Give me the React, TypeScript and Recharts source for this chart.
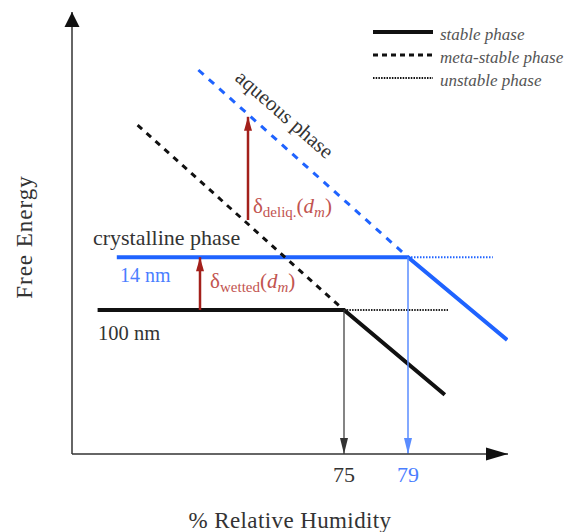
import React from 'react';
import { ComposedChart, Line, XAxis, YAxis, ReferenceDot, Label } from 'recharts';

// x = % relative humidity, y = free energy (arbitrary units)
const stable100 = [{ x: 59.6, y: 36 }, { x: 75, y: 36 }, { x: 81.3, y: 14.8 }];
const meta100 = [{ x: 62.1, y: 82.2 }, { x: 75, y: 36 }];
const unstable100 = [{ x: 75, y: 36 }, { x: 81.5, y: 36 }];
const stable14 = [{ x: 60.8, y: 49.2 }, { x: 79, y: 49.2 }, { x: 85.2, y: 28.5 }];
const meta14 = [{ x: 65.9, y: 96 }, { x: 79, y: 49.2 }];
const unstable14 = [{ x: 79, y: 49.2 }, { x: 84.3, y: 49.2 }];
const drh100 = [{ x: 75, y: 36 }, { x: 75, y: 0 }];
const drh14 = [{ x: 79, y: 49.2 }, { x: 79, y: 0 }];
const wettedArrow = [{ x: 66, y: 36 }, { x: 66, y: 49.2 }];
const deliqArrow = [{ x: 69, y: 58.5 }, { x: 69, y: 84.3 }];
const rhTicks = [75, 79];
const legendLabels = ['stable phase', 'meta-stable phase', 'unstable phase'];

const FONT = "'Liberation Serif', 'Times New Roman', serif";
const BLUE = '#1f63ff';
const BLUE_TEXT = '#4a7eff';
const BLUE_THIN = '#5a8cff';
const RED = '#a3201b';
const RED_TEXT = '#c25450';
const TEXT = '#333';

const X_DOMAIN = [58, 85.25];
const Y_DOMAIN = [0, 110.5];

const head = (dir: string, len: number, half: number, color: string) => (props: any) => {
  const { cx, cy } = props;
  let d = '';
  if (dir === 'up') d = `M${cx},${cy} L${cx - half},${cy + len} L${cx + half},${cy + len} Z`;
  if (dir === 'down') d = `M${cx},${cy} L${cx - half},${cy - len} L${cx + half},${cy - len} Z`;
  if (dir === 'right') d = `M${cx},${cy} L${cx - len},${cy - half} L${cx - len},${cy + half} Z`;
  return <path d={d} fill={color} stroke="none" />;
};

const txt = (content: React.ReactNode, extra: any = {}) => (props: any) => (
  <text x={props.cx} y={props.cy} fontFamily={FONT} fill={TEXT} fontSize={20} {...extra}>
    {content}
  </text>
);

const RhTick = (props: any) => {
  const { x, y, payload } = props;
  return (
    <text x={x} y={y} dy={28} textAnchor="middle" fontFamily={FONT} fontSize={22} fill={payload.value === 79 ? BLUE_TEXT : TEXT}>
      {payload.value}
    </text>
  );
};

const XLabel = (props: any) => {
  const vb = props.viewBox;
  return (
    <text x={vb.x + vb.width / 2} y={vb.y + vb.height - 4} textAnchor="middle" fontFamily={FONT} fontSize={23} letterSpacing={0.4} fill={TEXT}>
      % Relative Humidity
    </text>
  );
};

const YLabel = (props: any) => {
  const vb = props.viewBox;
  const x = vb.x + 32;
  const y = vb.y + vb.height / 2 + 4;
  return (
    <text x={x} y={y} transform={`rotate(-90, ${x}, ${y})`} textAnchor="middle" fontFamily={FONT} fontSize={23} letterSpacing={1} fill={TEXT}>
      Free Energy
    </text>
  );
};

const legendDash = [undefined, '5 4', '1.5 1.2'];
const legendWidth = [4, 3, 2];

const LegendBox = () => (
  <svg width={200} height={72} style={{ position: 'absolute', left: 370, top: 20 }}>
    {legendLabels.map((l, i) => (
      <g key={l}>
        <line x1={3} x2={63} y1={12 + i * 23} y2={12 + i * 23} stroke="#111" strokeWidth={legendWidth[i]} strokeDasharray={legendDash[i]} />
        <text x={70} y={20 + i * 23} fontFamily={FONT} fontStyle="italic" fontSize={17} fill="#555">
          {l}
        </text>
      </g>
    ))}
  </svg>
);

const common = { dataKey: 'y', type: 'linear' as const, dot: false, activeDot: false, isAnimationActive: false, legendType: 'none' as const };

export default function App() {
  return (
    <div style={{ position: 'absolute', left: 0, top: 0, width: 572, height: 532, background: '#fff' }}>
      <ComposedChart width={572} height={532} margin={{ top: 12, right: 64, bottom: 0, left: 0 }}>
        <XAxis
          type="number"
          dataKey="x"
          domain={X_DOMAIN}
          allowDataOverflow
          ticks={rhTicks}
          tick={<RhTick />}
          tickLine={false}
          tickSize={0}
          tickMargin={0}
          height={78}
          axisLine={{ stroke: '#333', strokeWidth: 1.5 }}
        >
          <Label content={<XLabel />} />
        </XAxis>
        <YAxis
          type="number"
          domain={Y_DOMAIN}
          allowDataOverflow
          tick={false}
          tickLine={false}
          width={72}
          axisLine={{ stroke: '#333', strokeWidth: 1.5 }}
        >
          <Label content={<YLabel />} />
        </YAxis>

        <Line {...common} data={stable14} stroke={BLUE} strokeWidth={4} />
        <Line {...common} data={meta14} stroke={BLUE} strokeWidth={3} strokeDasharray="7 7" />
        <Line {...common} data={unstable14} stroke={BLUE} strokeWidth={2} strokeDasharray="1.5 1.5" />
        <Line {...common} data={meta100} stroke="#111" strokeWidth={3} strokeDasharray="6 6" />
        <Line {...common} data={stable100} stroke="#111" strokeWidth={4} />
        <Line {...common} data={unstable100} stroke="#222" strokeWidth={2} strokeDasharray="1.5 1.2" />
        <Line {...common} data={drh100} stroke={TEXT} strokeWidth={1.2} />
        <Line {...common} data={drh14} stroke={BLUE_THIN} strokeWidth={1.5} />
        <Line {...common} data={wettedArrow} stroke={RED} strokeWidth={2.5} />
        <Line {...common} data={deliqArrow} stroke={RED} strokeWidth={2.5} />

        <ReferenceDot x={75} y={0} ifOverflow="visible" shape={head('down', 16, 4, TEXT)} />
        <ReferenceDot x={79} y={0} ifOverflow="visible" shape={head('down', 16, 4, BLUE_THIN)} />
        <ReferenceDot x={66} y={49.2} ifOverflow="visible" shape={head('up', 14, 4, RED)} />
        <ReferenceDot x={69} y={84.3} ifOverflow="visible" shape={head('up', 14, 4, RED)} />
        <ReferenceDot x={X_DOMAIN[1]} y={0} ifOverflow="visible" shape={head('right', 22, 6.5, '#111')} />
        <ReferenceDot x={X_DOMAIN[0]} y={Y_DOMAIN[1]} ifOverflow="visible" shape={head('up', 15, 7.5, '#111')} />

        <ReferenceDot x={59.31} y={52.25} ifOverflow="visible" shape={txt('crystalline phase', { fontSize: 22 })} />
        <ReferenceDot x={61} y={43} ifOverflow="visible" shape={txt('14 nm', { fill: BLUE_TEXT })} />
        <ReferenceDot x={59.63} y={28.5} ifOverflow="visible" shape={txt('100 nm', { fontSize: 20.5 })} />
        <ReferenceDot
          x={71.0}
          y={83.6}
          ifOverflow="visible"
          shape={(p: any) => (
            <text x={p.cx} y={p.cy} transform={`rotate(41, ${p.cx}, ${p.cy})`} textAnchor="middle" fontFamily={FONT} fontSize={21} fill={TEXT}>
              aqueous phase
            </text>
          )}
        />
        <ReferenceDot
          x={66.63}
          y={41.5}
          ifOverflow="visible"
          shape={txt(
            <>
              δ<tspan fontSize={15} dy={4}>wetted</tspan>
              <tspan dy={-4}>(</tspan>
              <tspan fontStyle="italic">d</tspan>
              <tspan fontSize={15} fontStyle="italic" dy={4}>m</tspan>
              <tspan dy={-4}>)</tspan>
            </>,
            { fill: RED_TEXT, fontSize: 21 }
          )}
        />
        <ReferenceDot
          x={69.31}
          y={60.25}
          ifOverflow="visible"
          shape={txt(
            <>
              δ<tspan fontSize={15} dy={4}>deliq.</tspan>
              <tspan dy={-4}>(</tspan>
              <tspan fontStyle="italic">d</tspan>
              <tspan fontSize={15} fontStyle="italic" dy={4}>m</tspan>
              <tspan dy={-4}>)</tspan>
            </>,
            { fill: RED_TEXT, fontSize: 21 }
          )}
        />
      </ComposedChart>
      <LegendBox />
    </div>
  );
}
